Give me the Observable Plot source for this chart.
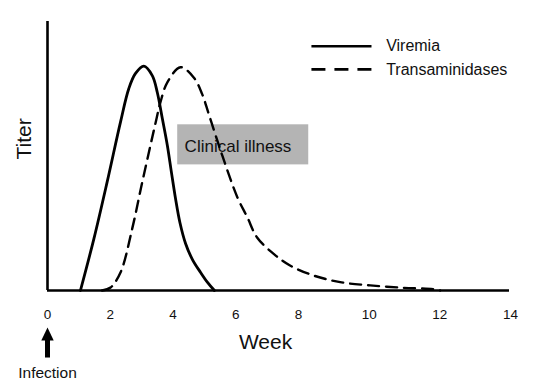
<!DOCTYPE html>
<html><head><meta charset="utf-8">
<script src="https://cdn.jsdelivr.net/npm/d3@7"></script>
<script src="https://cdn.jsdelivr.net/npm/@observablehq/plot@0.6"></script>
<style>body{margin:0;background:#fff}svg{display:block}</style>
</head><body><div id="chart"></div>
<script>
// Series values (week, relative titer 0-100)
const viremiaWeek  = [1.05, 1.48, 1.90, 2.33, 2.59, 2.80, 3.07, 3.34, 3.50, 3.66, 3.82, 3.95, 4.08, 4.22, 4.40, 4.62, 4.88, 5.10, 5.32];
const viremiaTiter = [0, 19.3, 40.3, 62.8, 75.0, 80.6, 83.4, 79.9, 73.6, 63.9, 53.9, 43.9, 34.2, 25.3, 17.5, 11.5, 6.7, 3.0, 0];
const transWeek  = [1.74, 2.01, 2.33, 2.70, 3.02, 3.28, 3.44, 3.60, 3.82, 4.24, 4.66, 4.93, 5.14, 5.57, 6.05, 6.37, 6.68, 7.21, 7.73, 8.42, 9.18, 10.03, 10.97, 11.82, 12.01];
const transTiter = [0, 1.1, 6.8, 23.0, 40.3, 53.9, 62.1, 70.0, 77.4, 83.0, 79.2, 73.0, 65.6, 50.2, 34.7, 27.2, 19.7, 13.6, 9.3, 5.6, 3.1, 1.9, 1.0, 0.5, 0];
const xTicks = [0, 2, 4, 6, 8, 10, 12, 14];
const seriesNames = ["Viremia", "Transaminidases"];
// annotation / legend placement in data units
const illnessLabel = "Clinical illness";
const illnessWeeks = [4.15, 8.29];
const illnessTiters = [46.7, 61.6];
const illnessLabelAt = [4.37, 53.5];
const legendWeeks = [8.38, 10.08, 10.48];
const legendTiters = [90.8, 82.2];
const infectionLabel = "Infection";
const infectionWeek = 0;
const infectionTiters = [-25.1, -18.4, -16.2, -32.7];
const xLabel = "Week";
const xLabelAt = [6.95, -21.9];
const yLabel = "Titer";
const yLabelAt = 48.7;

const viremia = viremiaWeek.map((w, i) => ({week: w, titer: viremiaTiter[i]}));
const trans = transWeek.map((w, i) => ({week: w, titer: transTiter[i]}));

const upTriangle = {
  draw(ctx, size) {
    const h = Math.sqrt(size);
    ctx.moveTo(0, -h / 2);
    ctx.lineTo(h * 0.48, h / 2);
    ctx.lineTo(-h * 0.48, h / 2);
    ctx.closePath();
  }
};

const font = "'Liberation Sans', Arial, sans-serif";

const chart = Plot.plot({
  width: 540,
  height: 384,
  marginLeft: 47,
  marginRight: 31,
  marginTop: 21,
  marginBottom: 94,
  style: {fontFamily: font, background: "#fff", color: "#111"},
  x: {type: "linear", domain: [0, 8, 14], range: [47, 298, 510]},
  y: {domain: [0, 100], range: [290, 21], axis: null},
  marks: [
    Plot.rect([illnessLabel], {x1: () => illnessWeeks[0], x2: () => illnessWeeks[1], y1: () => illnessTiters[0], y2: () => illnessTiters[1], fill: "#b4b4b4"}),
    Plot.text([illnessLabel], {x: () => illnessLabelAt[0], y: () => illnessLabelAt[1], text: d => d, textAnchor: "start", lineAnchor: "middle", fontSize: 17, fill: "#111"}),
    Plot.line(viremia, {x: "week", y: "titer", curve: "catmull-rom", stroke: "#000", strokeWidth: 2.8, strokeLinejoin: "round"}),
    Plot.line(trans, {x: "week", y: "titer", curve: "catmull-rom", stroke: "#000", strokeWidth: 2.4, strokeDasharray: "11,7"}),
    Plot.ruleX([0], {stroke: "#000", strokeWidth: 2.6}),
    Plot.ruleY([0], {stroke: "#000", strokeWidth: 2.6}),
    Plot.axisX({ticks: xTicks, tickSize: 0, tickPadding: 19, fontSize: 13.5, fill: "#111", label: null}),
    // legend
    Plot.ruleY([legendTiters[0]], {x1: () => legendWeeks[0], x2: () => legendWeeks[1], stroke: "#000", strokeWidth: 2.6}),
    Plot.ruleY([legendTiters[1]], {x1: () => legendWeeks[0], x2: () => legendWeeks[1], stroke: "#000", strokeWidth: 2.6, strokeDasharray: "14,9"}),
    Plot.text(seriesNames, {x: () => legendWeeks[2], y: (d, i) => legendTiters[i], text: d => d, textAnchor: "start", lineAnchor: "middle", fontSize: 16, fill: "#111"}),
    // axis titles
    Plot.text([xLabel], {x: () => xLabelAt[0], y: () => xLabelAt[1], text: d => d, lineAnchor: "bottom", fontSize: 21, fill: "#111"}),
    Plot.text([yLabel], {frameAnchor: "left", dx: -23, y: () => yLabelAt, text: d => d, rotate: -90, lineAnchor: "middle", fontSize: 21, fill: "#111"}),
    // infection arrow
    Plot.ruleX([infectionWeek], {y1: () => infectionTiters[0], y2: () => infectionTiters[1], stroke: "#000", strokeWidth: 5}),
    Plot.dot([infectionWeek], {x: d => d, y: () => infectionTiters[2], symbol: upTriangle, r: 7.3, fill: "#000", stroke: null}),
    Plot.text([infectionLabel], {x: () => infectionWeek, y: () => infectionTiters[3], text: d => d, lineAnchor: "bottom", fontSize: 15.5, fill: "#111"})
  ]
});
document.getElementById("chart").append(chart);
</script>
</body></html>
